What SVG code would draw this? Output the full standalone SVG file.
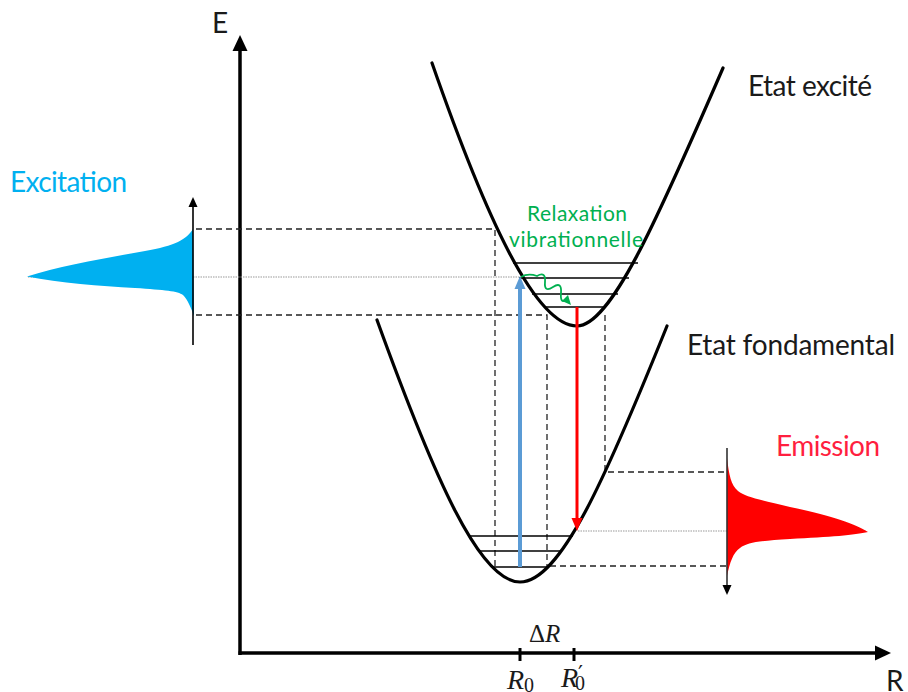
<svg xmlns="http://www.w3.org/2000/svg" width="908" height="692" viewBox="0 0 908 692">
<style>
.txt{font-family:Lato,"Open Sans","Liberation Sans",sans-serif;font-size:28px;fill:#1a1a1a}
.math{font-family:"Liberation Serif","DejaVu Serif",serif;font-size:25px;fill:#1a1a1a}
.curve{fill:none;stroke:#000;stroke-width:3.2;stroke-linecap:round}
.lvl{stroke:#000;stroke-width:1.3}
.dash{fill:none;stroke:#222;stroke-width:1.3;stroke-dasharray:6 4}
.dot{fill:none;stroke:#999;stroke-width:1.2;stroke-dasharray:1.5 1}
.axis{stroke:#000;stroke-width:3.5}
</style>
<rect width="908" height="692" fill="#fff"/>

<g id="axes">
<line class="axis" x1="240" y1="655" x2="240" y2="48"/>
<polygon points="240,35 232.5,51 247.5,51" fill="#000"/>
<line class="axis" x1="238.5" y1="653" x2="877" y2="653"/>
<polygon points="891,653 875,645.5 875,660.5" fill="#000"/>
<line x1="520" y1="648" x2="520" y2="661" stroke="#000" stroke-width="3"/>
<line x1="574" y1="648" x2="574" y2="661" stroke="#000" stroke-width="3"/>
<text class="txt" x="212" y="33">E</text>
<text class="txt" x="886" y="691">R</text>
</g>

<g id="connectors">
<path class="dash" d="M196,229 H495 V567"/>
<path class="dash" d="M196,315 H547 V567"/>
<path class="dash" d="M605,315 V472 H727"/>
<path class="dash" d="M550,566 H727"/>
<path class="dot" d="M28,277 H519"/>
<path class="dot" d="M578,531 H866"/>
</g>

<g id="excitation-spectrum">
<path d="M193,229 C187,239 175,246 145,251 C105,258 60,266 27,276.5 C60,283 100,286 135,288 C165,290 178,291 183,295 C188,300 191,308 194,316 Z" fill="#00B0F0"/>
<line x1="193" y1="345" x2="193" y2="206" stroke="#000" stroke-width="1.6"/>
<polygon points="193,197 188.5,207 197.5,207" fill="#000"/>
<text class="txt" x="10" y="192" style="fill:#00B0F0" textLength="117">Excitation</text>
</g>

<g id="emission-spectrum">
<path d="M727,458 C729,475 731,485 738,491 C746,497 760,500 790,507 C830,515 855,524 868,532 C855,535 830,537 790,539 C760,541 748,542 740,548 C733,553 730,562 727,576 Z" fill="#FF0000"/>
<line x1="727" y1="448" x2="727" y2="587" stroke="#333" stroke-width="1.6"/>
<polygon points="727,595 722.5,585 731.5,585" fill="#000"/>
<text class="txt" x="776" y="456" style="fill:#FF1F3F" textLength="104">Emission</text>
</g>

<g id="excited-state">
<path class="curve" d="M432,63 C485,215 535,326 577,326 C610,326 655,225 723,68"/>
<line class="lvl" x1="513" y1="263" x2="638" y2="263"/>
<line class="lvl" x1="519" y1="278" x2="629" y2="278"/>
<line class="lvl" x1="532" y1="294" x2="618" y2="294"/>
<line class="lvl" x1="546" y1="307" x2="606" y2="307"/>
<text class="txt" x="748" y="96" textLength="124">Etat excité</text>
</g>

<g id="ground-state">
<path class="curve" d="M377,320 C435,480 480,582 520,582 C560,582 605,480 667,326"/>
<line class="lvl" x1="470" y1="536" x2="573" y2="536"/>
<line class="lvl" x1="478" y1="551" x2="562" y2="551"/>
<line class="lvl" x1="493" y1="567" x2="548" y2="567"/>
<text class="txt" x="687" y="355" textLength="208">Etat fondamental</text>
</g>

<g id="transitions">
<line x1="520" y1="567" x2="520" y2="287" stroke="#5B9BD5" stroke-width="4"/>
<polygon points="520,276 514.5,289 525.5,289" fill="#5B9BD5"/>
<line x1="577" y1="307" x2="577" y2="520" stroke="#FF0000" stroke-width="3"/>
<polygon points="577,531 571.5,518 582.5,518" fill="#FF0000"/>
<path d="M521,277 Q528,273 537,276 Q546,271 545,282 Q544,293 553,287 Q562,281 561,293 Q560,305 567,299" fill="none" stroke="#00B050" stroke-width="1.8"/>
<polygon points="571,305 562,301 568,295" fill="#00B050"/>
</g>

<g id="relaxation-label">
<text class="txt" x="527" y="221" style="font-size:21px;fill:#00B050" textLength="100">Relaxation</text>
<text class="txt" x="509" y="247" style="font-size:21px;fill:#00B050" textLength="134">vibrationnelle</text>
</g>

<g id="r-labels">
<text class="math" x="529" y="642">Δ<tspan font-style="italic">R</tspan></text>
<text class="math" x="507" y="689" style="font-size:28px"><tspan font-style="italic">R</tspan><tspan font-size="20" dy="3">0</tspan></text>
<text class="math" x="561" y="687" style="font-size:28px"><tspan font-style="italic">R</tspan><tspan font-family="DejaVu Sans" font-size="22" dx="0" dy="-6">′</tspan><tspan font-size="20" dx="-8" dy="9">0</tspan></text>
</g>
</svg>
